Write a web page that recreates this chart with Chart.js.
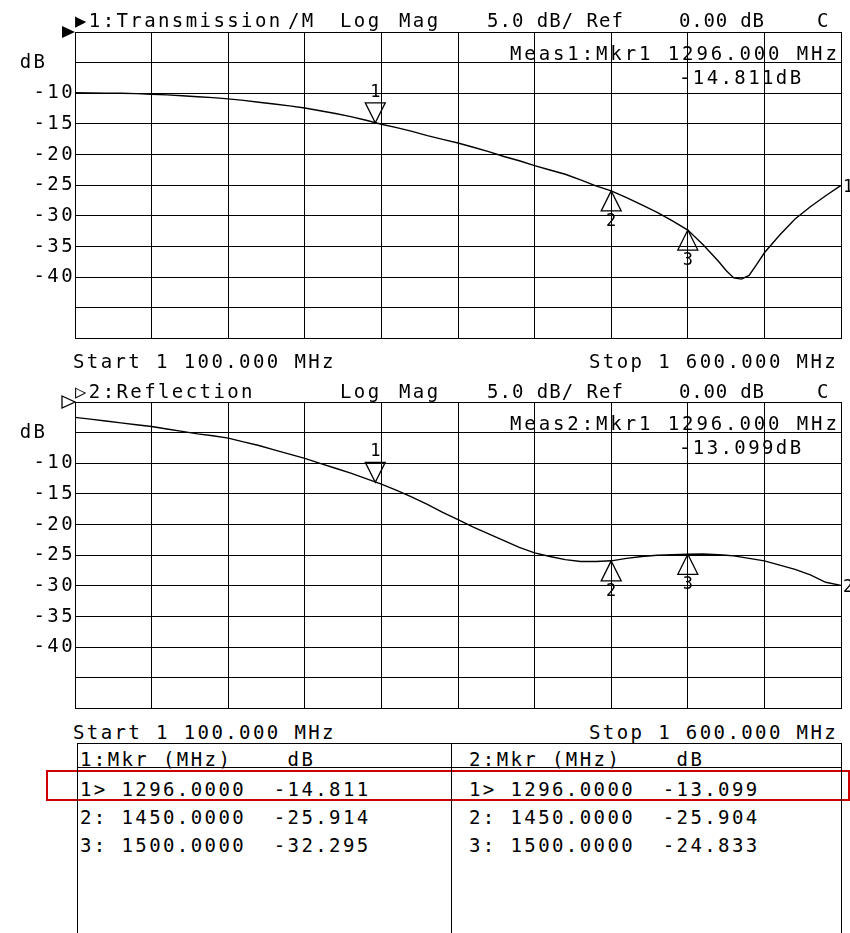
<!DOCTYPE html>
<html>
<head>
<meta charset="utf-8">
<script src="https://cdn.jsdelivr.net/npm/chart.js@4.4.1/dist/chart.umd.min.js"></script>
<style>
  body { margin: 0; background: #fff; width: 850px; height: 933px; overflow: hidden; position: relative; }
  canvas { position: absolute; left: 0; }
  .t { position: absolute; font-family: "DejaVu Sans Mono", monospace; font-size: 19px; line-height: 19px;
       letter-spacing: 2.4px; white-space: pre; color: #000; }
  .ln { position: absolute; background: #000; }
  #hilite { position: absolute; left: 46px; top: 770px; width: 804px; height: 31px; box-sizing: border-box;
            border: 2px solid #cc0000; }
</style>
</head>
<body>
<canvas id="trans" width="850" height="350" style="top:0"></canvas>
<canvas id="refl" width="850" height="350" style="top:370px"></canvas>
<div id="hilite"></div>
<script>
const startMHz = 1100;
const stopMHz = 1600;

const freqMHz = [1100, 1110, 1120, 1130, 1140, 1150, 1160, 1170, 1180, 1190,
  1200, 1210, 1220, 1230, 1240, 1250, 1260, 1270, 1280, 1290,
  1300, 1310, 1320, 1330, 1340, 1350, 1360, 1370, 1380, 1390,
  1400, 1410, 1420, 1430, 1440, 1450, 1460, 1470, 1480, 1490,
  1500, 1510, 1520, 1525, 1530, 1535, 1540, 1545, 1550, 1560,
  1570, 1580, 1590, 1600];

// 1: Transmission, dB
const transmissionDb = [-9.9, -9.95, -10.0, -10.0, -10.05, -10.15, -10.25, -10.4, -10.55, -10.7,
  -10.9, -11.15, -11.45, -11.75, -12.05, -12.4, -12.85, -13.3, -13.8, -14.4,
  -15.05, -15.6, -16.2, -16.9, -17.5, -18.1, -18.8, -19.5, -20.3, -21.0,
  -21.8, -22.5, -23.2, -24.1, -25.1, -25.9, -27.0, -28.2, -29.4, -30.8,
  -32.3, -34.7, -37.4, -38.9, -40.1, -40.3, -39.7, -37.9, -36.0, -33.1,
  -30.5, -28.5, -26.7, -25.0];

// 2: Reflection, dB
const reflectionDb = [-2.5, -2.8, -3.1, -3.4, -3.7, -4.0, -4.4, -4.8, -5.2, -5.5,
  -5.9, -6.5, -7.1, -7.8, -8.5, -9.2, -10.0, -10.8, -11.6, -12.5,
  -13.4, -14.4, -15.5, -16.7, -18.0, -19.2, -20.4, -21.5, -22.6, -23.7,
  -24.6, -25.2, -25.7, -26.0, -26.0, -25.9, -25.5, -25.2, -25.0, -24.9,
  -24.83, -24.8, -24.9, -25.0, -25.1, -25.3, -25.5, -25.7, -25.9, -26.6,
  -27.3, -28.2, -29.4, -29.9];

const markerMHz = [1296, 1450, 1500];
const transMarkerDb = [-14.811, -25.914, -32.295];
const reflMarkerDb = [-13.099, -25.904, -24.833];

const dbLabels = [-10, -15, -20, -25, -30, -35, -40];

function tickText(v) {
  if (v === -5) return 'dB  ';
  return dbLabels.includes(v) ? String(v) : '';
}

// canvas letter spacing so the tick labels match the analyzer's wide font
const spacing = {
  id: 'spacing',
  beforeDraw(chart) { chart.ctx.letterSpacing = '2.4px'; },
  afterDraw(chart) { chart.ctx.letterSpacing = '0px'; }
};

function markerPlugin(values, markerDb, traceNo, solidRef) {
  return {
    id: 'markers',
    afterDatasetsDraw(chart) {
      const { ctx, scales: { x, y } } = chart;
      ctx.save();
      ctx.letterSpacing = '0px';
      ctx.strokeStyle = '#000';
      ctx.fillStyle = '#000';
      ctx.lineWidth = 1.3;
      ctx.font = '17px "DejaVu Sans Mono"';
      ctx.textAlign = 'center';
      markerMHz.forEach((f, i) => {
        const px = x.getPixelForValue(f);
        const py = y.getPixelForValue(markerDb[i]);
        const dir = i === 0 ? -1 : 1;
        const base = py + dir * 20;
        ctx.beginPath();
        ctx.moveTo(px, py);
        ctx.lineTo(px - 10, base);
        ctx.lineTo(px + 10, base);
        ctx.closePath();
        ctx.stroke();
        ctx.textBaseline = i === 0 ? 'bottom' : 'top';
        ctx.fillText(String(i + 1), px, base + dir * 2);
      });
      // trace number at the right end
      const last = freqMHz.length - 1;
      ctx.textAlign = 'left';
      ctx.textBaseline = 'middle';
      ctx.fillText(String(traceNo), x.getPixelForValue(freqMHz[last]) + 2, y.getPixelForValue(values[last]) + 2);
      // reference level pointer
      const ry = y.getPixelForValue(0), rx = chart.chartArea.left;
      ctx.beginPath();
      ctx.moveTo(rx - 13, ry - 6);
      ctx.lineTo(rx, ry);
      ctx.lineTo(rx - 13, ry + 6);
      ctx.closePath();
      if (solidRef) ctx.fill(); else ctx.stroke();
      ctx.restore();
    }
  };
}

function makeChart(id, values, markerDb, traceNo, solidRef) {
  const points = freqMHz.map((f, i) => ({ x: f, y: values[i] }));
  return new Chart(document.getElementById(id), {
    type: 'line',
    data: {
      datasets: [{
        data: points,
        borderColor: '#000',
        borderWidth: 1.4,
        pointRadius: 0,
        tension: 0,
        fill: false
      }]
    },
    options: {
      responsive: false,
      animation: false,
      events: [],
      layout: { padding: { top: 32, right: 9, bottom: 9, left: 0 } },
      plugins: { legend: { display: false }, tooltip: { enabled: false } },
      scales: {
        x: {
          type: 'linear',
          min: startMHz,
          max: stopMHz,
          ticks: { display: false, stepSize: 50 },
          grid: { color: '#000', lineWidth: 1, drawTicks: false },
          border: { color: '#000', width: 1 },
          afterFit(s) { s.height = 0; }
        },
        y: {
          min: -50,
          max: 0,
          ticks: {
            stepSize: 5,
            padding: 0,
            color: '#000',
            autoSkip: false,
            font: { family: 'DejaVu Sans Mono', size: 19 },
            callback: tickText
          },
          grid: { color: '#000', lineWidth: 1, drawTicks: false },
          border: { color: '#000', width: 1 },
          afterFit(s) { s.width = 75; }
        }
      }
    },
    plugins: [spacing, markerPlugin(values, markerDb, traceNo, solidRef)]
  });
}

makeChart('trans', transmissionDb, transMarkerDb, 1, true);
makeChart('refl', reflectionDb, reflMarkerDb, 2, false);

// ---- text overlays ----
function text(str, x, baseline, ls) {
  const d = document.createElement('div');
  d.className = 't';
  d.textContent = str;
  d.style.left = x + 'px';
  d.style.top = (baseline - 15) + 'px';
  if (ls !== undefined) d.style.letterSpacing = ls + 'px';
  document.body.appendChild(d);
}
function line(x, y, w, h) {
  const d = document.createElement('div');
  d.className = 'ln';
  Object.assign(d.style, { left: x + 'px', top: y + 'px', width: w + 'px', height: h + 'px' });
  document.body.appendChild(d);
}
function fmtFreq(f) {
  return Math.floor(f / 1000) + ' ' + (f % 1000).toFixed(3).padStart(7, '0');
}

function header(title, baseline) {
  text(title[0], 75, baseline);
  if (title[1]) text(title[1], 288, baseline);
  text('Log', 340, baseline);
  text('Mag', 399, baseline);
  text('5.0 dB/ Ref', 487, baseline, 1.0);
  text('0.00 dB', 679, baseline, 0.8);
  text('C', 817, baseline);
}

function readout(n, db, top) {
  text('Meas' + n + ':Mkr1 ' + markerMHz[0].toFixed(3) + ' MHz', 510, top + 27, 2.9);
  text(db[0].toFixed(3) + 'dB', 679, top + 51);
}

function startStop(baseline) {
  text('Start ' + fmtFreq(startMHz) + ' MHz', 73, baseline);
  text('Stop ' + fmtFreq(stopMHz) + ' MHz', 589, baseline);
}

header(['\u25B61:Transmission', '/M'], 25.5);
readout(1, transMarkerDb, 32);
startStop(367);
header(['\u25B72:Reflection', ''], 396.5);
readout(2, reflMarkerDb, 402);
startStop(738);

// ---- marker table ----
line(77, 743, 765, 1);
line(77, 767, 765, 1);
line(77, 743, 1, 200);
line(451, 743, 1, 200);
line(841, 743, 1, 200);

function table(n, db, x0) {
  text(n + ':Mkr (MHz)    dB', x0, 765);
  markerMHz.forEach((f, i) => {
    const row = (i + 1) + (i === 0 ? '>' : ':') + ' ' + f.toFixed(4) + '  ' + db[i].toFixed(3);
    text(row, x0, 795 + i * 28);
  });
}
table(1, transMarkerDb, 80);
table(2, reflMarkerDb, 469);
</script>
</body>
</html>
